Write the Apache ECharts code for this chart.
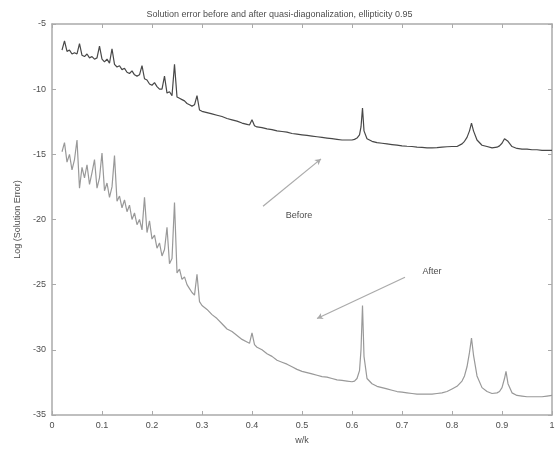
<!DOCTYPE html>
<html>
<head>
<meta charset="utf-8">
<script src="https://cdn.jsdelivr.net/npm/echarts@6/dist/echarts.min.js"></script>
<style>
  html, body { margin: 0; padding: 0; background: #fff; }
  #chart { width: 559px; height: 450px; }
</style>
</head>
<body>
<div id="chart"></div>
<script>
// Frequency samples (w/k)
const freq = [
  0.020,0.025,0.030,0.035,0.040,0.045,0.050,0.055,0.060,0.065,0.070,0.075,0.080,0.085,0.090,0.095,
  0.100,0.105,0.110,0.115,0.120,0.125,0.130,0.135,0.140,0.145,0.150,0.155,0.160,0.165,0.170,0.175,
  0.180,0.185,0.190,0.195,0.200,0.205,0.210,0.215,0.220,0.225,0.230,0.235,0.240,0.245,0.250,0.255,
  0.260,0.265,0.270,0.275,0.280,0.285,0.290,0.295,0.300,
  0.31,0.32,0.33,0.34,0.35,0.36,0.37,0.38,0.39,0.395,0.40,0.405,0.41,0.42,0.43,0.44,0.45,0.46,0.47,0.48,0.49,0.50,
  0.51,0.52,0.53,0.54,0.55,0.56,0.57,0.58,0.59,0.60,
  0.605,0.61,0.615,0.618,0.621,0.624,0.63,0.64,0.65,0.66,0.67,0.68,0.69,0.70,0.71,0.72,0.73,0.74,0.75,
  0.76,0.77,0.78,0.79,0.80,0.81,0.82,0.825,0.83,0.835,0.839,0.843,0.85,0.86,0.87,0.88,0.89,0.895,0.90,
  0.905,0.908,0.912,0.92,0.93,0.94,0.95,0.96,0.97,0.98,0.99,1.00
];

// Log solution error before quasi-diagonalization
const errBefore = [
  -7.0,-6.3,-7.1,-7.0,-7.3,-7.2,-7.3,-6.5,-7.4,-7.5,-7.3,-7.6,-7.5,-7.7,-7.6,-6.7,
  -7.7,-7.9,-7.7,-8.0,-6.9,-8.1,-8.3,-8.2,-8.5,-8.4,-8.7,-8.8,-8.6,-8.9,-9.0,-8.9,
  -8.2,-9.2,-9.3,-9.6,-9.7,-9.5,-9.8,-10.0,-10.0,-9.0,-10.3,-10.2,-10.5,-8.1,-10.6,-10.7,
  -10.8,-10.9,-11.1,-11.2,-11.3,-11.2,-10.5,-11.6,-11.7,
  -11.8,-11.9,-12.0,-12.1,-12.25,-12.35,-12.45,-12.6,-12.7,-12.75,-12.35,-12.8,-12.9,-12.95,-13.05,-13.1,-13.2,-13.25,
  -13.3,-13.4,-13.45,-13.5,
  -13.55,-13.6,-13.65,-13.7,-13.75,-13.8,-13.85,-13.9,-13.9,-13.9,
  -13.85,-13.75,-13.5,-12.9,-11.45,-13.2,-13.8,-14.0,-14.1,-14.15,-14.2,-14.25,-14.3,-14.35,-14.38,-14.4,
  -14.45,-14.47,-14.5,
  -14.5,-14.48,-14.45,-14.42,-14.4,-14.4,-14.2,-14.0,-13.7,-13.2,-12.6,-13.2,-13.9,-14.3,-14.4,-14.5,
  -14.45,-14.35,-14.15,
  -13.8,-13.65,-14.0,-14.4,-14.55,-14.6,-14.6,-14.65,-14.65,-14.7,-14.7,-14.7
];

// Log solution error after quasi-diagonalization
const errAfter = [
  -14.8,-14.1,-15.6,-15.0,-16.2,-15.4,-13.9,-17.6,-16.0,-16.8,-15.8,-17.3,-16.4,-15.4,-17.6,-16.8,
  -14.9,-17.8,-17.2,-18.3,-17.5,-15.1,-18.6,-18.2,-19.1,-18.5,-19.4,-18.9,-20.0,-19.5,-20.4,-20.0,
  -20.8,-18.3,-21.0,-20.1,-21.5,-21.2,-22.2,-21.8,-22.8,-22.3,-20.6,-23.4,-23.0,-18.7,-24.1,-23.8,
  -24.6,-24.4,-25.0,-25.3,-25.6,-25.8,-24.2,-26.3,-26.6,
  -26.9,-27.3,-27.6,-28.0,-28.4,-28.6,-28.9,-29.2,-29.4,-29.5,-28.7,-29.6,-29.8,-30.0,-30.3,-30.5,-30.8,-30.95,
  -31.1,-31.3,-31.5,-31.65,
  -31.75,-31.85,-31.95,-32.05,-32.1,-32.2,-32.3,-32.35,-32.4,-32.45,
  -32.4,-32.2,-31.6,-30.0,-26.6,-30.5,-32.2,-32.6,-32.8,-32.9,-33.0,-33.1,-33.2,-33.25,-33.3,-33.35,
  -33.4,-33.4,-33.4,
  -33.4,-33.35,-33.3,-33.2,-33.0,-32.8,-32.4,-32.0,-31.3,-30.2,-29.1,-30.4,-32.0,-32.9,-33.2,-33.35,
  -33.3,-33.2,-32.9,
  -32.2,-31.65,-32.6,-33.3,-33.5,-33.55,-33.6,-33.6,-33.6,-33.6,-33.55,-33.5,-33.4
];

// Axis ticks
const xTicks = [0, 0.1, 0.2, 0.3, 0.4, 0.5, 0.6, 0.7, 0.8, 0.9, 1];
const yTicks = [-35, -30, -25, -20, -15, -10, -5];

// Annotation arrows: [from, to] in data space, and their captions
const arrowBefore = [[0.422, -18.98], [0.538, -15.35]];
const arrowAfter = [[0.706, -24.43], [0.530, -27.60]];
const labelBefore = { text: 'Before', at: [0.494, -19.66] };
const labelAfter = { text: 'After', at: [0.760, -23.97] };

const pairs = (xs, ys) => xs.map((x, i) => [x, ys[i]]);

const axisColor = '#aaa';
const textColor = '#4d4d4d';
const font = 'Liberation Sans, Arial, sans-serif';

function tickLabel(v) {
  if (v === 0 || v === 1) return String(v);
  return v.toFixed(1);
}

const chart = echarts.init(document.getElementById('chart'), null, { renderer: 'canvas' });

const arrowLine = (seg) => ({
  symbol: ['none', 'arrow'],
  symbolSize: [5, 6],
  silent: true,
  label: { show: false },
  lineStyle: { color: '#aaa', width: 1.2, type: 'solid' },
  data: [[{ coord: seg[0] }, { coord: seg[1] }]]
});

const caption = (c) => ({
  symbol: 'circle',
  symbolSize: 0,
  silent: true,
  label: {
    show: true, position: 'inside', formatter: c.text,
    color: textColor, fontSize: 9, fontFamily: font
  },
  data: [{ coord: c.at }]
});

chart.setOption({
  animation: false,
  backgroundColor: '#fff',
  title: {
    text: 'Solution error before and after quasi-diagonalization, ellipticity 0.95',
    left: 'center',
    top: 5,
    textStyle: { fontSize: 9, fontWeight: 'normal', color: textColor, fontFamily: font }
  },
  grid: { left: 52, right: 7, top: 24, bottom: 29, show: false },
  xAxis: [{
    type: 'value', min: 0, max: 1, interval: 0.1,
    name: 'w/k', nameLocation: 'middle', nameGap: 21,
    nameTextStyle: { fontSize: 9, color: textColor, fontFamily: font },
    axisLine: { show: true, onZero: false, lineStyle: { color: axisColor, width: 1.5 } },
    axisTick: { show: true, inside: true, length: 4, lineStyle: { color: axisColor } },
    axisLabel: { fontSize: 9, color: textColor, fontFamily: font, margin: 6, formatter: tickLabel },
    splitLine: { show: false }
  }, {
    type: 'value', min: 0, max: 1, interval: 0.1, position: 'top',
    axisLine: { show: true, onZero: false, lineStyle: { color: axisColor, width: 1.5 } },
    axisTick: { show: true, inside: true, length: 4, lineStyle: { color: axisColor } },
    axisLabel: { show: false },
    splitLine: { show: false }
  }],
  yAxis: [{
    type: 'value', min: yTicks[0], max: yTicks[yTicks.length - 1], interval: 5,
    name: 'Log (Solution Error)', nameLocation: 'middle', nameGap: 28, nameRotate: 90,
    nameTextStyle: { fontSize: 9, color: textColor, fontFamily: font },
    axisLine: { show: true, onZero: false, lineStyle: { color: axisColor, width: 1.5 } },
    axisTick: { show: true, inside: true, length: 4, lineStyle: { color: axisColor } },
    axisLabel: { fontSize: 9, color: textColor, fontFamily: font, margin: 6 },
    splitLine: { show: false }
  }, {
    type: 'value', min: yTicks[0], max: yTicks[yTicks.length - 1], interval: 5, position: 'right',
    axisLine: { show: true, onZero: false, lineStyle: { color: axisColor, width: 1.5 } },
    axisTick: { show: true, inside: true, length: 4, lineStyle: { color: axisColor } },
    axisLabel: { show: false },
    splitLine: { show: false }
  }],
  series: [{
    name: 'Before',
    type: 'line',
    data: pairs(freq, errBefore),
    showSymbol: false,
    lineStyle: { color: '#484848', width: 1.2 },
    markLine: arrowLine(arrowBefore),
    markPoint: caption(labelBefore),
    z: 3
  }, {
    name: 'After',
    type: 'line',
    data: pairs(freq, errAfter),
    showSymbol: false,
    lineStyle: { color: '#999', width: 1.2 },
    markLine: arrowLine(arrowAfter),
    markPoint: caption(labelAfter),
    z: 2
  }]
});
</script>
</body>
</html>
